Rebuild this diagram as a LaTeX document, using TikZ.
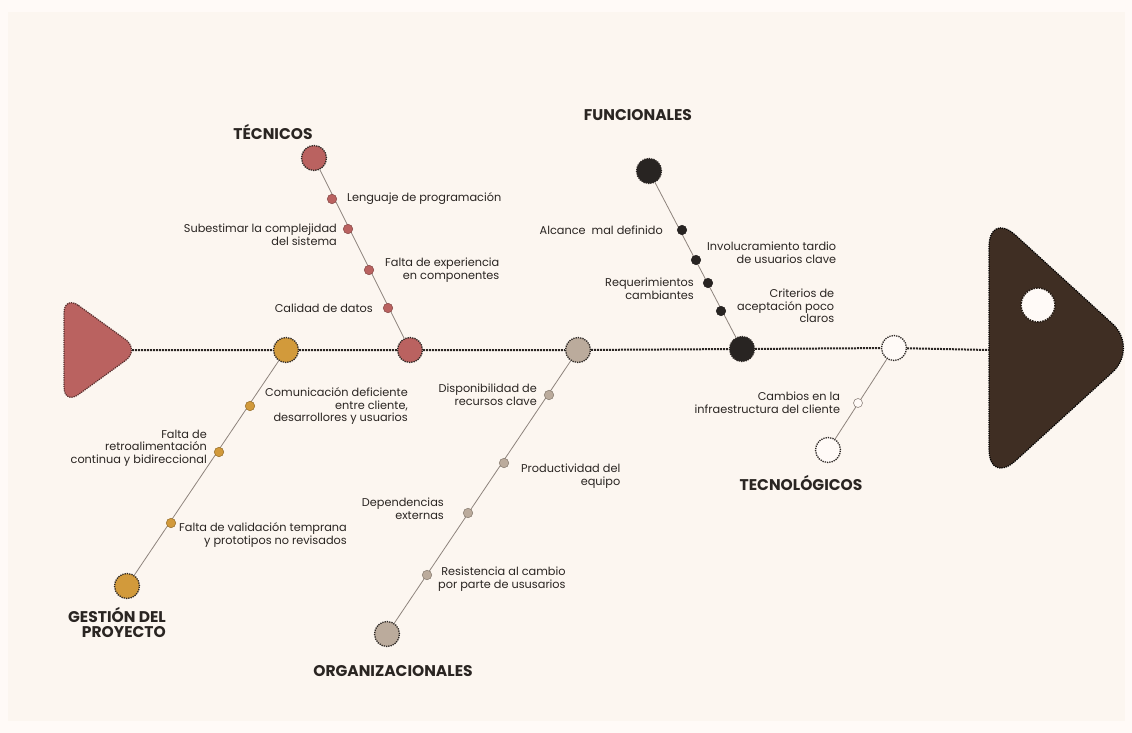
\documentclass[tikz,border=0pt]{standalone}
\usepackage{fontspec}
\setmainfont{Poppins}
\usetikzlibrary{positioning}
\definecolor{bgout}{HTML}{FFFAF7}
\definecolor{bg}{HTML}{FCF6F0}
\definecolor{ros}{HTML}{BA6260}
\definecolor{gld}{HTML}{D29A3B}
\definecolor{tpe}{HTML}{BBAB9C}
\definecolor{blk}{HTML}{282422}
\definecolor{hed}{HTML}{3F2E23}
\definecolor{bonec}{HTML}{8E847D}
\definecolor{ink}{HTML}{2A2522}

\begin{document}
\begin{tikzpicture}[x=1pt,y=-1pt,font=\fontsize{11.3}{12.6}\selectfont,
  big/.style={circle,minimum size=25pt,inner sep=0pt,fill=#1,draw=ink,densely dotted,line width=1.3pt},
  dot/.style={circle,minimum size=9.5pt,inner sep=0pt,fill=#1,draw=#1!70!black,line width=0.5pt},
  lbl/.style={text=ink,inner sep=0pt,align=right},
  cat/.style={text=ink,inner sep=0pt,font=\fontsize{15.5}{15}\selectfont\bfseries,align=right},
  spine/.style={draw=ink,densely dotted,line width=2pt},
  bone/.style={draw=bonec,line width=0.8pt}]
  \useasboundingbox (0,0) rectangle (1132,733);
  \fill[bgout] (0,0) rectangle (1132,733);
  \fill[bg] (8,12) rectangle (1125,721);

  % tail and head
  \draw[fill=ros,draw=ros!45!black,densely dotted,line width=1.2pt,rounded corners=18pt]
    (64,295) -- (140,350) -- (64,405) -- cycle;
  \draw[fill=hed,draw=black,densely dotted,line width=1.2pt,rounded corners=36pt]
    (989,211) -- (1139,348) -- (989,485) -- cycle;
  \draw[fill=bgout,draw=hed!60!black,densely dotted,line width=1.6pt] (1038,305) circle (17);
  \coordinate (tailtip) at (132,350);
  \coordinate (headL) at (989,350);

  % big circles
  \node[big=gld] (g0) at (286,350) {};
  \node[big=ros] (t0) at (410,350) {};
  \node[big=tpe] (o0) at (578,350) {};
  \node[big=blk] (f0) at (742,349) {};
  \node[big=bgout] (k0) at (894,348) {};
  \node[big=ros] (t5) at (314,158) {};
  \node[big=blk] (f5) at (649,171) {};
  \node[big=gld] (g5) at (127,586) {};
  \node[big=tpe] (o5) at (387,634) {};
  \node[big=bgout] (k5) at (828,450) {};

  \draw[spine] (tailtip) -- (g0) -- (t0) -- (o0) -- (f0) -- (k0) -- (headL);
  \draw[bone] (t5) -- (t0);
  \draw[bone] (f5) -- (f0);
  \draw[bone] (g0) -- (g5);
  \draw[bone] (o0) -- (o5);
  \draw[bone] (k0) -- (k5);

  % tecnicos
  \node[dot=ros] (t1) at (332,199) {};
  \node[dot=ros] (t2) at (348,229) {};
  \node[dot=ros] (t3) at (369,270) {};
  \node[dot=ros] (t4) at (388,308) {};
  \node[lbl,right=10pt of t1] {Lenguaje de programación};
  \node[lbl,left=6pt of t2,yshift=-6pt] {Subestimar la complejidad\\del sistema};
  \node[lbl,right=11pt of t3] {Falta de experiencia\\en componentes};
  \node[lbl,left=10pt of t4] {Calidad de datos};
  \node[cat] at (273,132) {TÉCNICOS};

  % funcionales
  \node[dot=blk] (f1) at (682,230) {};
  \node[dot=blk] (f2) at (696,260) {};
  \node[dot=blk] (f3) at (708,283) {};
  \node[dot=blk] (f4) at (721,311) {};
  \node[lbl,left=14pt of f1] {Alcance\ \ mal definido};
  \node[lbl,right=6pt of f2,yshift=7pt] {Involucramiento tardio\\de usuarios clave};
  \node[lbl,left=9pt of f3,yshift=-6pt] {Requerimientos\\cambiantes};
  \node[lbl,right=11pt of f4,yshift=5pt] {Criterios de\\aceptación poco\\claros};
  \node[cat] at (638,115) {FUNCIONALES};

  % gestion del proyecto
  \node[dot=gld] (g1) at (250,406) {};
  \node[dot=gld] (g2) at (219,452) {};
  \node[dot=gld] (g3) at (171,523) {};
  \node[lbl,right=10pt of g1] {Comunicación deficiente\\entre cliente,\\desarrollores y usuarios};
  \node[lbl,left=7pt of g2,yshift=4pt] {Falta de\\retroalimentación\\continua y bidireccional};
  \node[lbl,right=3pt of g3,yshift=-12pt] {Falta de validación temprana\\y prototipos no revisados};
  \node[cat,anchor=east] at (166,622) {GESTIÓN DEL\\PROYECTO};

  % organizacionales
  \node[dot=tpe] (o1) at (549,395) {};
  \node[dot=tpe] (o2) at (504,463) {};
  \node[dot=tpe] (o3) at (468,513) {};
  \node[dot=tpe] (o4) at (427,575) {};
  \node[lbl,left=7pt of o1] {Disponibilidad de\\recursos clave};
  \node[lbl,right=12pt of o2,yshift=-13pt] {Productividad del\\equipo};
  \node[lbl,left=19pt of o3,yshift=4pt] {Dependencias\\externas};
  \node[lbl,right=6pt of o4,yshift=-4pt] {Resistencia al cambio\\por parte de ususarios};
  \node[cat] at (393,671) {ORGANIZACIONALES};

  % tecnologicos
  \node[circle,minimum size=9pt,inner sep=0pt,fill=bgout,draw=bonec,line width=0.6pt] (k1) at (858,403) {};
  \node[lbl,left=13pt of k1] {Cambios en la\\infraestructura del cliente};
  \node[cat] at (801,483) {TECNOLÓGICOS};
\end{tikzpicture}
\end{document}
